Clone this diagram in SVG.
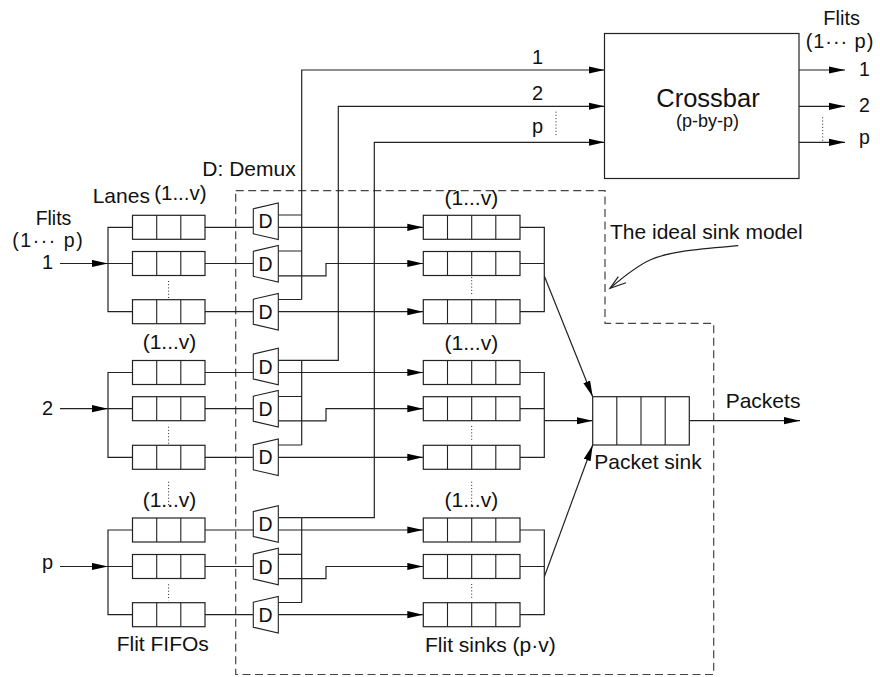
<svg xmlns="http://www.w3.org/2000/svg" width="880" height="677" viewBox="0 0 880 677">
<defs>
<style>
text{font-family:"Liberation Sans",Arial,Helvetica,sans-serif;font-size:21px;fill:#111}
.ln{fill:none;stroke:#222;stroke-width:1.2}
.bx{fill:#fff;stroke:#222;stroke-width:1.2}
.dv{fill:none;stroke:#222;stroke-width:1.1}
.dot{fill:none;stroke:#222;stroke-width:1;stroke-dasharray:1 2.2}
.dash{fill:none;stroke:#444;stroke-width:1.2;stroke-dasharray:8 4.5}
.arr{marker-end:url(#ah)}
.dm{fill:#fff;stroke:#222;stroke-width:1.1}
.dl{font-size:19.5px}
.mid{text-anchor:middle}
</style>
<marker id="ah" markerUnits="userSpaceOnUse" viewBox="0 0 16 8" refX="16" refY="4" markerWidth="16" markerHeight="8" orient="auto">
<path d="M0,0.4 L16,4 L0,7.6 z" fill="#000"/>
</marker>
</defs>

<!-- dashed ideal sink model boundary -->
<path id="sinkmodel" class="dash" d="M235.7,190.7 H605 V323.3 H713.7 V674.5 H235.7 Z"/>

<g id="connectors">
<!-- inputs -->
<path class="ln arr" d="M60,263.5 H108"/>
<path class="ln arr" d="M60,408.7 H108"/>
<path class="ln arr" d="M60,566.5 H108"/>
<!-- buses -->
<path class="ln" d="M132.5,227.3 H108 V311.7 H132.5 M108,263.5 H132.5"/>
<path class="ln" d="M132.5,372.5 H108 V457.3 H132.5 M108,408.7 H132.5"/>
<path class="ln" d="M132.5,530 H108 V614.7 H132.5 M108,566.5 H132.5"/>
<!-- FIFO to demux -->
<path class="ln" d="M205,227.3 H253.3 M205,263.5 H253.3 M205,311.7 H253.3"/>
<path class="ln" d="M205,372.5 H253.3 M205,408.7 H253.3 M205,457.3 H253.3"/>
<path class="ln" d="M205,530 H253.3 M205,566.5 H253.3 M205,614.7 H253.3"/>
<!-- demux top outputs to crossbar -->
<path class="ln" d="M278.3,215 H301.7 M278.3,251 H301.7 M278.3,299.5 H301.7"/>
<path class="ln arr" d="M301.7,299.5 V70 H604.5"/>
<path class="ln" d="M278.3,360.3 H301.7 M278.3,396.5 H301.7 M278.3,445 H301.7 M301.7,360.3 V445"/>
<path class="ln arr" d="M301.7,360.3 H338.3 V106.3 H604.5"/>
<path class="ln" d="M278.3,517.7 H301.7 M278.3,554.3 H301.7 M278.3,602.5 H301.7 M301.7,517.7 V602.5"/>
<path class="ln arr" d="M301.7,517.7 H374.3 V142.3 H604.5"/>
<!-- demux to sinks -->
<path class="ln arr" d="M278.3,227.3 H423.3"/>
<path class="ln arr" d="M278.3,275.8 H326 V263.5 H423.3"/>
<path class="ln arr" d="M278.3,311.7 H423.3"/>
<path class="ln arr" d="M278.3,372.5 H423.3"/>
<path class="ln arr" d="M278.3,420.9 H326 V408.7 H423.3"/>
<path class="ln arr" d="M278.3,457.3 H423.3"/>
<path class="ln arr" d="M278.3,530 H423.3"/>
<path class="ln arr" d="M278.3,578.7 H326 V566.5 H423.3"/>
<path class="ln arr" d="M278.3,614.7 H423.3"/>
<!-- sink merges -->
<path class="ln" d="M520,227.3 H544.3 V311.7 H520 M520,263.5 H544.3"/>
<path class="ln" d="M520,372.5 H544.3 V457.3 H520 M520,408.7 H544.3"/>
<path class="ln" d="M520,530 H544.3 V614.7 H520 M520,566.5 H544.3"/>
<path class="ln arr" d="M544.3,276 L592.7,396.7"/>
<path class="ln arr" d="M544.3,420.7 H592.7"/>
<path class="ln arr" d="M544.3,576.7 L592.7,445"/>
<!-- packet output -->
<path class="ln arr" d="M689.3,420.7 H800"/>
<!-- crossbar outputs -->
<path class="ln arr" d="M799,70 H845"/>
<path class="ln arr" d="M799,106.3 H845"/>
<path class="ln arr" d="M799,142.3 H845"/>
<!-- dotted ellipsis lines -->
<path class="dot" d="M556,111.7 V136.7 M822.7,117.3 V141.7"/>
<path class="dot" d="M168.6,281 V300 M168.6,426.7 V444 M168.6,481.7 V506 M168.6,584.3 V600.5"/>
<path class="dot" d="M471.7,277 V295 M471.7,426 V440 M471.7,481.7 V506 M471.7,584 V598.5"/>
<!-- annotation arrow -->
<path class="ln" d="M738.3,245.7 C700,249 670,251 650,260 C635,267 622,278 610,288.3"/>
<path class="ln" d="M618.3,276.7 L610,288.3 L626,282.7"/>
</g>

<!-- crossbar -->
<g id="crossbar">
<rect class="bx" x="604.5" y="33.5" width="194.5" height="145"/>
<text class="mid" x="708" y="107" style="font-size:25.5px">Crossbar</text>
<text class="mid" x="707.5" y="127" style="font-size:18px">(p-by-p)</text>
</g>

<!-- flit FIFOs -->
<g id="fifo-1-1"><rect class="bx" x="132.5" y="215.3" width="72.5" height="24"/><path class="dv" d="M156.7,215.3 v24 M180.8,215.3 v24"/></g>
<g id="fifo-1-2"><rect class="bx" x="132.5" y="251.5" width="72.5" height="24"/><path class="dv" d="M156.7,251.5 v24 M180.8,251.5 v24"/></g>
<g id="fifo-1-3"><rect class="bx" x="132.5" y="299.7" width="72.5" height="24"/><path class="dv" d="M156.7,299.7 v24 M180.8,299.7 v24"/></g>
<g id="fifo-2-1"><rect class="bx" x="132.5" y="360.5" width="72.5" height="24"/><path class="dv" d="M156.7,360.5 v24 M180.8,360.5 v24"/></g>
<g id="fifo-2-2"><rect class="bx" x="132.5" y="396.7" width="72.5" height="24"/><path class="dv" d="M156.7,396.7 v24 M180.8,396.7 v24"/></g>
<g id="fifo-2-3"><rect class="bx" x="132.5" y="445.3" width="72.5" height="24"/><path class="dv" d="M156.7,445.3 v24 M180.8,445.3 v24"/></g>
<g id="fifo-3-1"><rect class="bx" x="132.5" y="518" width="72.5" height="24"/><path class="dv" d="M156.7,518 v24 M180.8,518 v24"/></g>
<g id="fifo-3-2"><rect class="bx" x="132.5" y="554.5" width="72.5" height="24"/><path class="dv" d="M156.7,554.5 v24 M180.8,554.5 v24"/></g>
<g id="fifo-3-3"><rect class="bx" x="132.5" y="602.7" width="72.5" height="24"/><path class="dv" d="M156.7,602.7 v24 M180.8,602.7 v24"/></g>

<!-- demuxes -->
<g id="demux-1-1"><polygon class="dm" points="253.3,208.8 278.3,203 278.3,239.6 253.3,233.8"/><text class="mid dl" x="265.6" y="228.3">D</text></g>
<g id="demux-1-2"><polygon class="dm" points="253.3,251.3 278.3,245.5 278.3,282.1 253.3,276.3"/><text class="mid dl" x="265.6" y="270.8">D</text></g>
<g id="demux-1-3"><polygon class="dm" points="253.3,299.2 278.3,293.4 278.3,330 253.3,324.2"/><text class="mid dl" x="265.6" y="318.7">D</text></g>
<g id="demux-2-1"><polygon class="dm" points="253.3,354 278.3,348.2 278.3,384.8 253.3,379"/><text class="mid dl" x="265.6" y="373.5">D</text></g>
<g id="demux-2-2"><polygon class="dm" points="253.3,396.2 278.3,390.4 278.3,427 253.3,421.2"/><text class="mid dl" x="265.6" y="415.7">D</text></g>
<g id="demux-2-3"><polygon class="dm" points="253.3,444.8 278.3,439 278.3,475.6 253.3,469.8"/><text class="mid dl" x="265.6" y="464.3">D</text></g>
<g id="demux-3-1"><polygon class="dm" points="253.3,511.5 278.3,505.7 278.3,542.3 253.3,536.5"/><text class="mid dl" x="265.6" y="531">D</text></g>
<g id="demux-3-2"><polygon class="dm" points="253.3,554 278.3,548.2 278.3,584.8 253.3,579"/><text class="mid dl" x="265.6" y="573.5">D</text></g>
<g id="demux-3-3"><polygon class="dm" points="253.3,602.2 278.3,596.4 278.3,633 253.3,627.2"/><text class="mid dl" x="265.6" y="621.7">D</text></g>

<!-- flit sinks -->
<g id="sink-1-1"><rect class="bx" x="423.3" y="215.3" width="96.7" height="24"/><path class="dv" d="M447.5,215.3 v24 M471.7,215.3 v24 M495.8,215.3 v24"/></g>
<g id="sink-1-2"><rect class="bx" x="423.3" y="251.5" width="96.7" height="24"/><path class="dv" d="M447.5,251.5 v24 M471.7,251.5 v24 M495.8,251.5 v24"/></g>
<g id="sink-1-3"><rect class="bx" x="423.3" y="299.7" width="96.7" height="24"/><path class="dv" d="M447.5,299.7 v24 M471.7,299.7 v24 M495.8,299.7 v24"/></g>
<g id="sink-2-1"><rect class="bx" x="423.3" y="360.5" width="96.7" height="24"/><path class="dv" d="M447.5,360.5 v24 M471.7,360.5 v24 M495.8,360.5 v24"/></g>
<g id="sink-2-2"><rect class="bx" x="423.3" y="396.7" width="96.7" height="24"/><path class="dv" d="M447.5,396.7 v24 M471.7,396.7 v24 M495.8,396.7 v24"/></g>
<g id="sink-2-3"><rect class="bx" x="423.3" y="445.3" width="96.7" height="24"/><path class="dv" d="M447.5,445.3 v24 M471.7,445.3 v24 M495.8,445.3 v24"/></g>
<g id="sink-3-1"><rect class="bx" x="423.3" y="518" width="96.7" height="24"/><path class="dv" d="M447.5,518 v24 M471.7,518 v24 M495.8,518 v24"/></g>
<g id="sink-3-2"><rect class="bx" x="423.3" y="554.5" width="96.7" height="24"/><path class="dv" d="M447.5,554.5 v24 M471.7,554.5 v24 M495.8,554.5 v24"/></g>
<g id="sink-3-3"><rect class="bx" x="423.3" y="602.7" width="96.7" height="24"/><path class="dv" d="M447.5,602.7 v24 M471.7,602.7 v24 M495.8,602.7 v24"/></g>

<!-- packet sink -->
<g id="packet-sink"><rect class="bx" x="592.7" y="396.7" width="96.6" height="48.3"/><path class="dv" d="M616.8,396.7 v48.3 M641,396.7 v48.3 M665.2,396.7 v48.3"/></g>

<!-- labels -->
<g id="labels">
<text class="mid" x="53.5" y="225" style="font-size:19.5px">Flits</text>
<text x="12.3" y="247" style="font-size:19.5px" textLength="70.4" lengthAdjust="spacing">(1··· p)</text>
<text class="mid" x="47.5" y="269.3" style="font-size:20px">1</text>
<text class="mid" x="47.5" y="415" style="font-size:20px">2</text>
<text class="mid" x="47.5" y="569" style="font-size:20px">p</text>
<text x="92.7" y="203">Lanes</text>
<text class="mid" x="180.4" y="199.5" style="font-size:20.5px">(1...v)</text>
<text class="mid" x="169.5" y="349">(1...v)</text>
<text class="mid" x="169.5" y="507">(1...v)</text>
<text class="mid" x="471.3" y="205">(1...v)</text>
<text class="mid" x="471.3" y="349.5">(1...v)</text>
<text class="mid" x="471.3" y="507">(1...v)</text>
<text x="202.3" y="176">D: Demux</text>
<text x="116.7" y="651">Flit FIFOs</text>
<text x="425" y="652.3">Flit sinks (p·v)</text>
<text x="594.3" y="469.3">Packet sink</text>
<text x="725.7" y="408.3">Packets</text>
<text x="610" y="239">The ideal sink model</text>
<text class="mid" x="537.5" y="64" style="font-size:20px">1</text>
<text class="mid" x="537.5" y="100" style="font-size:20px">2</text>
<text class="mid" x="537.5" y="132.5" style="font-size:20px">p</text>
<text class="mid" x="841.7" y="24.5" style="font-size:20px">Flits</text>
<text x="805.7" y="47.5" style="font-size:20px" textLength="67.6" lengthAdjust="spacing">(1··· p)</text>
<text x="859" y="76" style="font-size:19.5px">1</text>
<text x="859" y="111.7" style="font-size:19.5px">2</text>
<text x="859" y="144" style="font-size:19.5px">p</text>
</g>
</svg>
